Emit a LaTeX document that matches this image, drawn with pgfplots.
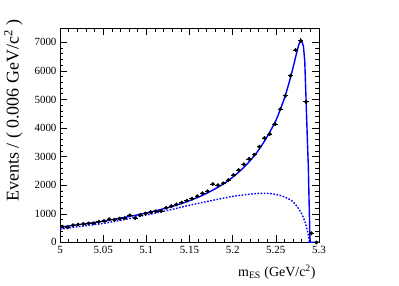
\documentclass[border=0pt]{standalone}
\usepackage{fontspec}
\setmainfont{Liberation Serif}
\usepackage{pgfplots}
\usepackage{pgfplotstable}
\pgfplotsset{compat=1.18}

\pgfplotstableread{
x y ey
5.003 550 23
5.009 530 23
5.015 600 24
5.021 625 25
5.027 645 25
5.033 665 26
5.039 670 26
5.045 720 27
5.051 750 27
5.057 810 28
5.063 790 28
5.069 830 29
5.075 850 29
5.081 950 31
5.087 850 29
5.093 960 31
5.099 1010 32
5.105 1060 33
5.111 1090 33
5.117 1100 33
5.123 1210 35
5.129 1270 36
5.135 1330 36
5.141 1390 37
5.147 1460 38
5.153 1530 39
5.159 1620 40
5.165 1720 41
5.171 1790 42
5.177 2040 45
5.183 2000 45
5.189 2070 45
5.195 2180 47
5.201 2360 49
5.207 2530 50
5.213 2730 52
5.219 2920 54
5.225 3070 55
5.231 3350 58
5.237 3650 60
5.243 3790 62
5.249 4140 64
5.255 4660 68
5.261 5130 72
5.267 5830 76
5.273 6730 82
5.279 7050 84
5.285 4920 70
5.291 320 18
5.297 0 0
}\datatable

\pgfplotstableread{
x y
5.000 530
5.010 575
5.020 615
5.030 655
5.040 700
5.050 745
5.060 795
5.070 850
5.080 905
5.090 965
5.100 1030
5.110 1100
5.120 1175
5.130 1260
5.140 1355
5.150 1460
5.160 1580
5.170 1720
5.180 1880
5.190 2060
5.200 2280
5.210 2540
5.220 2850
5.230 3230
5.240 3700
5.250 4260
5.255 4640
5.260 5050
5.265 5550
5.270 6120
5.274 6620
5.277 6950
5.279 7060
}\totalA

\pgfplotstableread{
x y
5.279 7060
5.2805 7010
5.282 6850
5.2835 6350
5.285 5000
5.2865 3600
5.2876 2700
5.2884 1600
5.2892 550
5.2896 0
5.300 0
}\totalB

\pgfplotstableread{
x y
5.000 460
5.025 565
5.050 665
5.075 800
5.100 960
5.125 1120
5.150 1300
5.175 1460
5.200 1610
5.215 1670
5.225 1705
5.235 1718
5.245 1703
5.255 1645
5.265 1518
5.270 1420
5.275 1240
5.280 1000
5.284 700
5.2865 420
5.288 200
5.289 0
}\bkg

\begin{document}
\begin{tikzpicture}
\useasboundingbox (-60bp,-43.6bp) rectangle (339bp,242.4bp);
\begin{axis}[
  at={(0,0)}, anchor=south west,
  scale only axis, width=259bp, height=214.4bp,
  xmin=5, xmax=5.3, ymin=0, ymax=7500,
  xtick={5,5.05,...,5.3},
  xticklabels={5,5.05,5.1,5.15,5.2,5.25,5.3},
  ytick={0,1000,...,7000},
  minor x tick num=4, minor y tick num=4,
  tick align=inside, tick pos=both,
  major tick length=7bp, minor tick length=3.5bp,
  scaled y ticks=false,
  /pgf/number format/1000 sep={},
  /pgf/number format/assume math mode=true,
  tick label style={font=\fontsize{11}{13}\selectfont},
  axis line style={line width=0.8pt},
  every tick/.style={black, line width=0.6pt},
  xlabel={m\textsubscript{ES} (GeV/c\textsuperscript{2})},
  ylabel={Events / ( 0.006 GeV/c\textsuperscript{2} )},
  xlabel style={font=\fontsize{14}{16}\selectfont, at={(axis description cs:1,-0.16)}, anchor=base east},
  ylabel style={font=\fontsize{18}{20}\selectfont, inner sep=0pt, at={(axis description cs:-0.16,1.04)}, anchor=base east},
  clip=true,
]
\addplot[blue, line width=1.4pt, dash pattern=on 1.6pt off 1.6pt, smooth] table[x=x,y=y] {\bkg};
\addplot[blue, line width=1.4pt, smooth] table[x=x,y=y] {\totalA};
\addplot[blue, line width=1.4pt] table[x=x,y=y] {\totalB};
\addplot[black, only marks, mark=*, mark size=1.5pt, line width=0.8pt,
  error bars/.cd, x dir=both, x fixed=0.003, y dir=both, y explicit,
  error bar style={line width=0.8pt}, error mark=none]
  table[x=x, y=y, y error=ey] {\datatable};
\end{axis}
\end{tikzpicture}
\end{document}
